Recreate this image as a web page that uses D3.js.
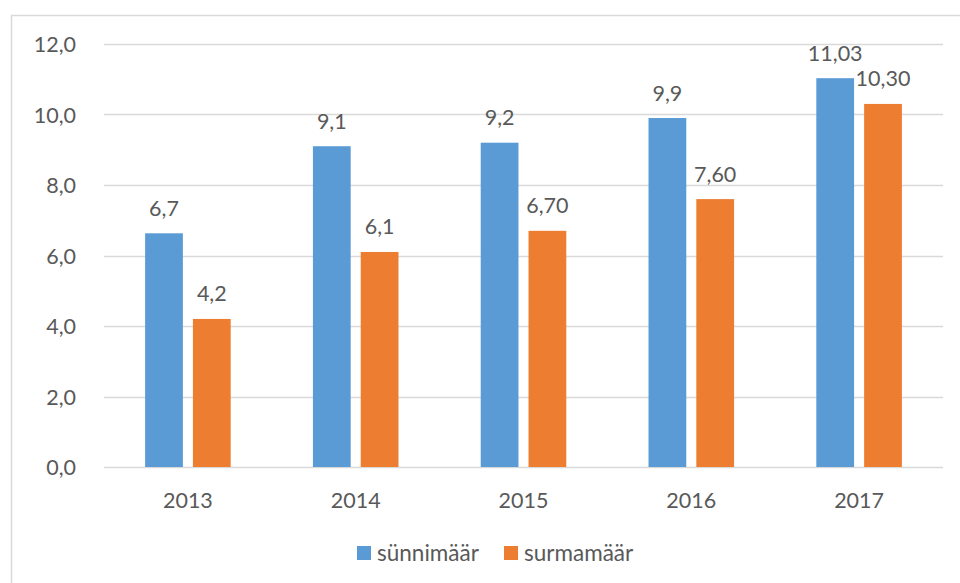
<!DOCTYPE html>
<html>
<head>
<meta charset="utf-8">
<script src="https://cdn.jsdelivr.net/npm/d3@7"></script>
<style>
  body { margin: 0; background: #fff; }
  svg text { font-family: Lato, "Open Sans", sans-serif; fill: #595959; }
</style>
</head>
<body>
<svg id="chart" width="960" height="583"></svg>
<script>
// chart values
const years = ["2013", "2014", "2015", "2016", "2017"];
const seriesNames = ["sünnimäär", "surmamäär"];
const births = [6.63, 9.1, 9.2, 9.9, 11.03];
const deaths = [4.2, 6.1, 6.7, 7.6, 10.3];
const birthLabels = ["6,7", "9,1", "9,2", "9,9", "11,03"];
const deathLabels = ["4,2", "6,1", "6,70", "7,60", "10,30"];
const yTicks = [0, 2, 4, 6, 8, 10, 12];

const colors = ["#5B9BD5", "#ED7D31"];
const width = 960, height = 583;
const plot = { left: 104, right: 943, top: 44, bottom: 467 };

const svg = d3.select("#chart");

// outer chart border (runs off the right and bottom edge)
svg.append("rect")
    .attr("x", 11.5)
    .attr("y", 15.5)
    .attr("width", 1000)
    .attr("height", 1000)
    .attr("fill", "none")
    .attr("stroke", "#d9d9d9")
    .attr("stroke-width", 1.5);

const y = d3.scaleLinear()
    .domain([0, 12])
    .range([plot.bottom, plot.top]);

const x0 = d3.scaleBand()
    .domain(years)
    .range([plot.left, plot.right])
    .padding(0);

const x1 = d3.scaleBand()
    .domain(seriesNames)
    .range([0, x0.bandwidth()])
    .paddingInner(0.21)
    .paddingOuter(0.86);

// gridlines
svg.append("g")
    .selectAll("line")
    .data(yTicks)
    .enter()
    .append("line")
    .attr("x1", plot.left)
    .attr("x2", plot.right)
    .attr("y1", d => Math.round(y(d)) + 0.5)
    .attr("y2", d => Math.round(y(d)) + 0.5)
    .attr("stroke", "#d9d9d9")
    .attr("stroke-width", 1.3);

// y axis labels
svg.append("g")
    .selectAll("text")
    .data(yTicks)
    .enter()
    .append("text")
    .attr("x", 76)
    .attr("y", d => y(d) + 8)
    .attr("text-anchor", "end")
    .style("font-size", "21.5px")
    .text(d => d.toFixed(1).replace(".", ","));

// x axis labels
svg.append("g")
    .selectAll("text")
    .data(years)
    .enter()
    .append("text")
    .attr("x", d => x0(d) + x0.bandwidth() / 2)
    .attr("y", 507.5)
    .attr("text-anchor", "middle")
    .style("font-size", "21.5px")
    .text(d => d);

const series = [
    { name: seriesNames[0], values: births, labels: birthLabels, color: colors[0] },
    { name: seriesNames[1], values: deaths, labels: deathLabels, color: colors[1] }
];

series.forEach(function(s) {
    const g = svg.append("g");

    g.selectAll("rect")
        .data(years)
        .enter()
        .append("rect")
        .attr("x", d => x0(d) + x1(s.name))
        .attr("width", x1.bandwidth())
        .attr("y", (d, i) => y(s.values[i]))
        .attr("height", (d, i) => y(0) - y(s.values[i]))
        .attr("fill", s.color);

    g.selectAll("text")
        .data(years)
        .enter()
        .append("text")
        .attr("x", d => x0(d) + x1(s.name) + x1.bandwidth() / 2)
        .attr("y", (d, i) => y(s.values[i]) - 17.5)
        .attr("text-anchor", "middle")
        .style("font-size", "21.5px")
        .text((d, i) => s.labels[i]);
});

// legend
const legendItems = [
    { name: seriesNames[0], color: colors[0], x: 357 },
    { name: seriesNames[1], color: colors[1], x: 504 }
];

const legend = svg.append("g");

legend.selectAll("rect")
    .data(legendItems)
    .enter()
    .append("rect")
    .attr("x", d => d.x)
    .attr("y", 546)
    .attr("width", 14)
    .attr("height", 14)
    .attr("fill", d => d.color);

legend.selectAll("text")
    .data(legendItems)
    .enter()
    .append("text")
    .attr("x", d => d.x + 20)
    .attr("y", 560.5)
    .style("font-size", "22.5px")
    .text(d => d.name);
</script>
</body>
</html>
